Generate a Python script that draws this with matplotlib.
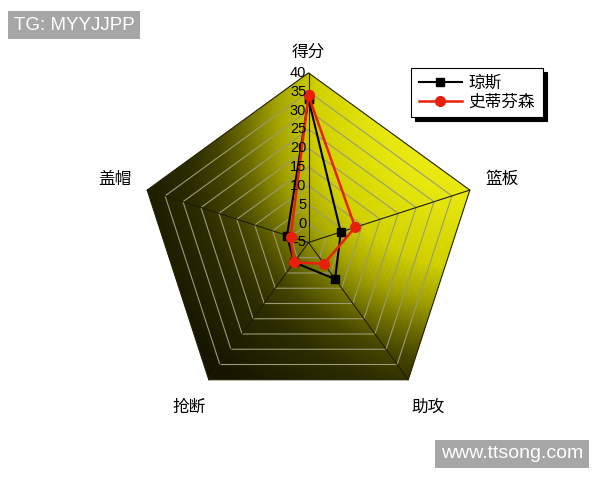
import matplotlib
matplotlib.use('Agg')
import matplotlib.pyplot as plt
import numpy as np
from matplotlib.patches import Polygon
from matplotlib.colors import LinearSegmentedColormap

plt.rcParams['font.family'] = ['Liberation Sans', 'Noto Sans CJK SC']

# data
categories = ['得分', '篮板', '助攻', '抢断', '盖帽']
jones = [33, 4, 7, 1.5, 1]
stephenson = [34, 8, 2, 1.5, 0]
series_names = ['琼斯', '史蒂芬森']
r_min, r_max, r_step = -5, 40, 5

# geometry (radar drawn in its own units, 1 unit = one score point)
px = 3.77                      # pixels per unit
cx_px, cy_px = 308.5, 242.5    # centre of radar in the 600x480 picture
angles = np.deg2rad(90 - 72 * np.arange(len(categories)))


def to_xy(vals):
    r = np.asarray(vals, dtype=float) - r_min
    return r * np.cos(angles), r * np.sin(angles)


fig = plt.figure(figsize=(6, 4.8), dpi=100)
ax = fig.add_axes([0, 0, 1, 1])
ax.set_xlim(-cx_px / px, (600 - cx_px) / px)
ax.set_ylim(-(480 - cy_px) / px, cy_px / px)
ax.axis('off')

# gradient fill of the outer pentagon: light source beyond the top-right
R = r_max - r_min
ox, oy = to_xy([r_max] * 5)
outer = Polygon(np.column_stack([ox, oy]), closed=True, facecolor='none',
                edgecolor='#202000', lw=0.8, zorder=3)
ax.add_patch(outer)
gx, gy = np.meshgrid(np.linspace(-R, R, 400), np.linspace(-R, R, 400))
gc = ((465 - cx_px) / px, (cy_px - 115) / px)
dist = np.hypot(gx - gc[0], gy - gc[1]) / (400 / px)
cmap = LinearSegmentedColormap.from_list('yel', [
    (0.0, '#f0f018'), (0.2, '#e8e810'), (0.38, '#d0d000'), (0.47, '#a5a500'),
    (0.55, '#6e6e00'), (0.62, '#464600'), (0.7, '#2d2d00'),
    (0.85, '#1a1a00'), (1.0, '#0c0c00')])
im = ax.imshow(dist, extent=(-R, R, -R, R), origin='lower', cmap=cmap,
               vmin=0, vmax=1, zorder=1, interpolation='bilinear')
im.set_clip_path(outer)

# grid rings and spokes
for v in np.arange(r_min + r_step, r_max, r_step):
    rx, ry = to_xy([v] * 5)
    ax.add_patch(Polygon(np.column_stack([rx, ry]), closed=True, fill=False,
                         edgecolor='#9a9a78', lw=0.8, zorder=2))
for x1, y1 in zip(ox, oy):
    ax.plot([0, x1], [0, y1], color='#1e1e00', lw=0.8, zorder=2)

# value tick labels along the top spoke
for v in np.arange(r_min, r_max + 1, r_step):
    ax.text(-0.6, v - r_min, f'{v}', ha='right', va='center', fontsize=10.5,
            color='black', zorder=6)

# category labels
for i, (name, a) in enumerate(zip(categories, angles)):
    lr = 50.5 if i == 0 else 54
    ax.text(lr * np.cos(a), lr * np.sin(a), name, ha='center', va='center',
            fontsize=12, color='black')

# series
jx, jy = to_xy(jones)
sx, sy = to_xy(stephenson)
l1, = ax.plot(np.append(jx, jx[0]), np.append(jy, jy[0]), color='black',
              lw=1.5, marker='s', ms=6, zorder=4, label=series_names[0])
l2, = ax.plot(np.append(sx, sx[0]), np.append(sy, sy[0]), color='#e8200a',
              lw=1.8, marker='o', ms=7, mfc='#e8200a', mec='#e8200a',
              zorder=5, label=series_names[1])

leg = ax.legend(handles=[l1, l2], loc='upper left',
                bbox_to_anchor=(411 / 600, 1 - 68 / 480),
                bbox_transform=fig.transFigure, borderaxespad=0,
                fontsize=12, fancybox=False,
                edgecolor='black', framealpha=1, handlelength=2.6,
                borderpad=0.45, labelspacing=0.2, handletextpad=0.4,
                shadow={'ox': 3, 'oy': -3, 'facecolor': 'black',
                        'edgecolor': 'black', 'alpha': 1})
leg.get_frame().set_linewidth(0.8)

# watermarks
fig.text(14 / 600, 1 - 25 / 480, 'TG: MYYJJPP', color='white', fontsize=13.5,
         ha='left', va='center',
         bbox=dict(boxstyle='square,pad=0.3', facecolor='#a6a6a6', edgecolor='none'))
fig.text(441 / 600, 1 - 454 / 480, 'www.ttsong.com', color='white', fontsize=14,
         ha='left', va='center',
         bbox=dict(boxstyle='square,pad=0.3', facecolor='#a6a6a6', edgecolor='none'))

fig.savefig('out.png', dpi=100)
